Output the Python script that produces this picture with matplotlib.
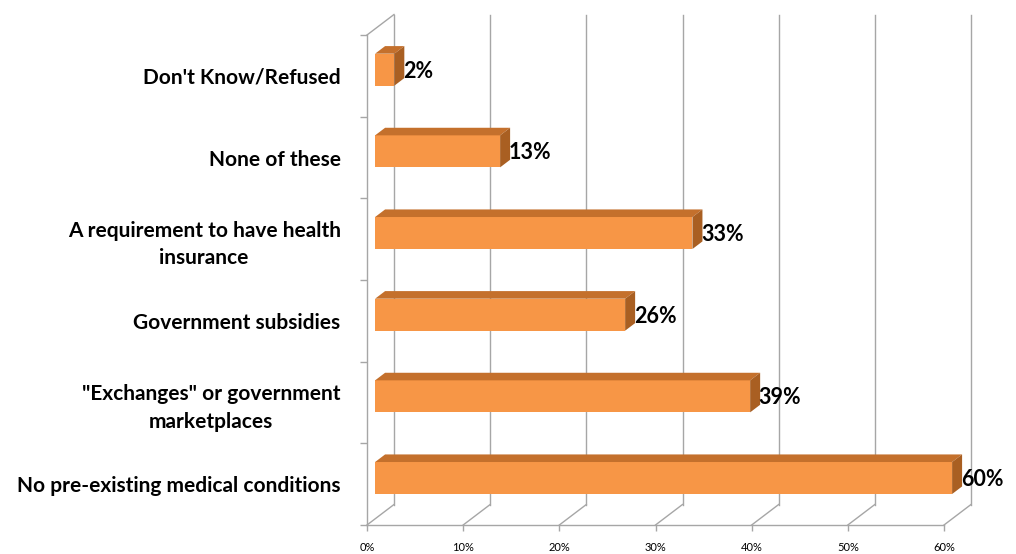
import numpy as np
import matplotlib
matplotlib.use("Agg")
import matplotlib.pyplot as plt

# data, bottom to top
categories = [
    "No pre-existing medical conditions",
    "\"Exchanges\" or government\nmarketplaces",
    "Government subsidies",
    "A requirement to have health\ninsurance",
    "None of these",
    "Don't Know/Refused",
]
values = [60, 39, 26, 33, 13, 2]
xticks = [0, 10, 20, 30, 40, 50, 60]
xticklabels = ["0%", "10%", "20%", "30%", "40%", "50%", "60%"]

plt.rcParams['font.family'] = ['Lato', 'DejaVu Sans']

W, H = 1016, 554
fig = plt.figure(figsize=(W / 100, H / 100), dpi=100)
# front plane of the 3d box, in pixels
x0, x1 = 367, 944
ytop, ybot = 35, 525
ax = fig.add_axes([x0 / W, (H - ybot) / H, (x1 - x0) / W, (ybot - ytop) / H])
n = len(categories)
ax.set_xlim(0, 60)
ax.set_ylim(-0.5, n - 0.5)

# depth vector (front -> back wall) in data units
px_x = 60 / (x1 - x0)
px_y = n / (ybot - ytop)
Dx, Dy = 27 * px_x, 20.5 * px_y
grid_c = "#a6a6a6"

ylo, yhi = -0.5, n - 0.5
for xt in xticks:
    # back wall gridline
    ax.plot([xt + Dx, xt + Dx], [ylo + Dy, yhi + Dy], color=grid_c, lw=1, clip_on=False, zorder=1)
    # floor diagonal
    ax.plot([xt, xt + Dx], [ylo, ylo + Dy], color=grid_c, lw=1, clip_on=False, zorder=1)
# top of left wall
ax.plot([0, Dx], [yhi, yhi + Dy], color=grid_c, lw=1, clip_on=False, zorder=1)

# 3d bars
t1, t2 = 0.30, 0.67
h = 16 * px_y
front_c, top_c, side_c = "#f79646", "#c4702c", "#a95f22"
for i, v in enumerate(values):
    yb, yt = i - h, i + h
    ax.fill([t1 * Dx, v + t1 * Dx, v + t1 * Dx, t1 * Dx],
            [yb + t1 * Dy, yb + t1 * Dy, yt + t1 * Dy, yt + t1 * Dy],
            color=front_c, lw=0, zorder=3, clip_on=False)
    ax.fill([t1 * Dx, v + t1 * Dx, v + t2 * Dx, t2 * Dx],
            [yt + t1 * Dy, yt + t1 * Dy, yt + t2 * Dy, yt + t2 * Dy],
            color=top_c, lw=0, zorder=3, clip_on=False)
    ax.fill([v + t1 * Dx, v + t2 * Dx, v + t2 * Dx, v + t1 * Dx],
            [yb + t1 * Dy, yb + t2 * Dy, yt + t2 * Dy, yt + t1 * Dy],
            color=side_c, lw=0, zorder=3, clip_on=False)
    ax.text(v + t2 * Dx - 0.15, i + t1 * Dy - 0.02, "%d%%" % v, ha="left", va="center",
            fontsize=15.5, fontweight="bold", color="black", zorder=4, clip_on=False)

for s in ["top", "right"]:
    ax.spines[s].set_visible(False)
for s in ["left", "bottom"]:
    ax.spines[s].set_color(grid_c)
    ax.spines[s].set_linewidth(1)

ax.set_yticks(range(n))
ax.set_yticklabels(categories, fontsize=15, fontweight="bold", multialignment="center",
                   linespacing=1.45)
ax.set_yticks(np.arange(n + 1) - 0.5, minor=True)
ax.tick_params(axis="y", which="major", length=0, pad=19)
ax.tick_params(axis="y", which="minor", length=5, color=grid_c, width=1)
ax.set_xticks(xticks)
ax.set_xticklabels(xticklabels, fontsize=8)
ax.tick_params(axis="x", length=4, color=grid_c, width=1, pad=8)
ax.patch.set_visible(False)

fig.savefig("out.png", dpi=100, facecolor="white")
